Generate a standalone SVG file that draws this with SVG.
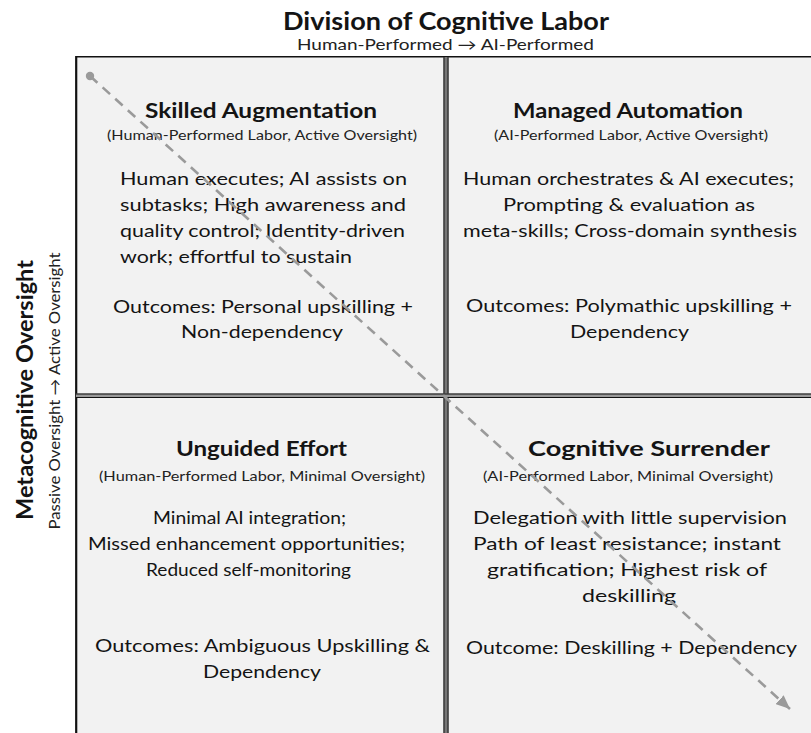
<svg xmlns="http://www.w3.org/2000/svg" width="811" height="733" viewBox="0 0 811 733">
  <style>
    text { font-family: Lato, "Open Sans", "Liberation Sans", sans-serif; fill: #141414; }
    .title { font-size: 25px; font-weight: bold; text-anchor: middle; }
    .sub { font-size: 15px; text-anchor: middle; fill: #222; }
    .qt { font-size: 21px; font-weight: bold; text-anchor: middle; }
    .qp { font-size: 13.5px; text-anchor: middle; fill: #222; }
    .body { font-size: 18px; }
    .mid { text-anchor: middle; }
    .axis { font-size: 22px; font-weight: bold; text-anchor: middle; }
    .quad { fill: #f2f2f2; }
  </style>
  <defs>
    <marker id="arrowhead" viewBox="0 0 14 12" refX="14" refY="6" markerWidth="14" markerHeight="12" markerUnits="userSpaceOnUse" orient="auto">
      <path d="M0,0 L14,6 L0,12 Z" fill="#9a9a9a"/>
    </marker>
  </defs>

  <rect width="811" height="733" fill="#ffffff"/>

  <!-- Axis headings -->
  <g id="axis-x">
    <text class="title" x="446" y="30" textLength="326" lengthAdjust="spacingAndGlyphs">Division of Cognitive Labor</text>
    <text class="sub" x="445.5" y="50" textLength="297" lengthAdjust="spacingAndGlyphs">Human-Performed → AI-Performed</text>
  </g>
  <g id="axis-y">
    <text class="axis" transform="translate(33,390) rotate(-90)" textLength="260" lengthAdjust="spacingAndGlyphs">Metacognitive Oversight</text>
    <text class="sub" transform="translate(60,391) rotate(-90)" textLength="277" lengthAdjust="spacingAndGlyphs">Passive Oversight → Active Oversight</text>
  </g>

  <!-- Grid background and frame -->
  <g id="grid">
    <rect class="quad" x="76" y="57" width="735" height="676"/>
    <line x1="76" y1="56.8" x2="811" y2="56.8" stroke="#111" stroke-width="1.6"/>
    <line x1="76.2" y1="56" x2="76.2" y2="733" stroke="#111" stroke-width="2.2"/>
    <!-- double-rule dividers -->
    <rect x="443.5" y="57" width="5" height="676" fill="#777"/>
    <line x1="444" y1="57" x2="444" y2="733" stroke="#2a2a2a" stroke-width="1.2"/>
    <line x1="448" y1="57" x2="448" y2="733" stroke="#2a2a2a" stroke-width="1.2"/>
    <rect x="76" y="393.5" width="735" height="4.5" fill="#9a9a9a"/>
    <line x1="76" y1="394" x2="811" y2="394" stroke="#111" stroke-width="1.2"/>
    <line x1="76" y1="397.5" x2="811" y2="397.5" stroke="#111" stroke-width="1.2"/>
  </g>

  <!-- Quadrant: top left -->
  <g id="skilled-augmentation">
    <text class="qt" x="261" y="118" textLength="232" lengthAdjust="spacingAndGlyphs">Skilled Augmentation</text>
    <text class="qp" x="262" y="140" textLength="310" lengthAdjust="spacingAndGlyphs">(Human-Performed Labor, Active Oversight)</text>
    <text class="body" x="120" y="185" textLength="287" lengthAdjust="spacingAndGlyphs">Human executes; AI assists on</text>
    <text class="body" x="120" y="211" textLength="286" lengthAdjust="spacingAndGlyphs">subtasks; High awareness and</text>
    <text class="body" x="120" y="237" textLength="285" lengthAdjust="spacingAndGlyphs">quality control; Identity-driven</text>
    <text class="body" x="120" y="263" textLength="232" lengthAdjust="spacingAndGlyphs">work; effortful to sustain</text>
    <text class="body mid" x="263" y="313" textLength="300" lengthAdjust="spacingAndGlyphs">Outcomes: Personal upskilling +</text>
    <text class="body mid" x="262" y="338" textLength="162" lengthAdjust="spacingAndGlyphs">Non-dependency</text>
  </g>

  <!-- Quadrant: top right -->
  <g id="managed-automation">
    <text class="qt" x="628" y="118" textLength="230" lengthAdjust="spacingAndGlyphs">Managed Automation</text>
    <text class="qp" x="631" y="140" textLength="274" lengthAdjust="spacingAndGlyphs">(AI-Performed Labor, Active Oversight)</text>
    <text class="body mid" x="628.5" y="185" textLength="331" lengthAdjust="spacingAndGlyphs">Human orchestrates &amp; AI executes;</text>
    <text class="body mid" x="629" y="211" textLength="252" lengthAdjust="spacingAndGlyphs">Prompting &amp; evaluation as</text>
    <text class="body mid" x="630" y="237" textLength="334" lengthAdjust="spacingAndGlyphs">meta-skills; Cross-domain synthesis</text>
    <text class="body mid" x="629" y="312" textLength="326" lengthAdjust="spacingAndGlyphs">Outcomes: Polymathic upskilling +</text>
    <text class="body mid" x="629.5" y="338" textLength="119" lengthAdjust="spacingAndGlyphs">Dependency</text>
  </g>

  <!-- Quadrant: bottom left -->
  <g id="unguided-effort">
    <text class="qt" x="261.5" y="456" textLength="171" lengthAdjust="spacingAndGlyphs">Unguided Effort</text>
    <text class="qp" x="262" y="481" textLength="326" lengthAdjust="spacingAndGlyphs">(Human-Performed Labor, Minimal Oversight)</text>
    <text class="body mid" x="249.5" y="524" textLength="193" lengthAdjust="spacingAndGlyphs">Minimal AI integration;</text>
    <text class="body mid" x="246.5" y="550" textLength="317" lengthAdjust="spacingAndGlyphs">Missed enhancement opportunities;</text>
    <text class="body mid" x="248.5" y="576" textLength="205" lengthAdjust="spacingAndGlyphs">Reduced self-monitoring</text>
    <text class="body mid" x="262.5" y="652" textLength="335" lengthAdjust="spacingAndGlyphs">Outcomes: Ambiguous Upskilling &amp;</text>
    <text class="body mid" x="262" y="678" textLength="118" lengthAdjust="spacingAndGlyphs">Dependency</text>
  </g>

  <!-- Quadrant: bottom right -->
  <g id="cognitive-surrender">
    <text class="qt" x="649" y="456" textLength="242" lengthAdjust="spacingAndGlyphs">Cognitive Surrender</text>
    <text class="qp" x="628" y="481" textLength="290" lengthAdjust="spacingAndGlyphs">(AI-Performed Labor, Minimal Oversight)</text>
    <text class="body mid" x="630" y="524" textLength="314" lengthAdjust="spacingAndGlyphs">Delegation with little supervision</text>
    <text class="body mid" x="627" y="550" textLength="308" lengthAdjust="spacingAndGlyphs">Path of least resistance; instant</text>
    <text class="body mid" x="627" y="576" textLength="280" lengthAdjust="spacingAndGlyphs">gratification; Highest risk of</text>
    <text class="body mid" x="629" y="602" textLength="94" lengthAdjust="spacingAndGlyphs">deskilling</text>
    <text class="body mid" x="631.5" y="654" textLength="331" lengthAdjust="spacingAndGlyphs">Outcome: Deskilling + Dependency</text>
  </g>

  <!-- Connector: diagonal trend arrow -->
  <g id="connectors">
    <circle cx="90" cy="76" r="4.2" fill="#9a9a9a"/>
    <path d="M90,76 L790,709" fill="none" stroke="#9a9a9a" stroke-width="2.6" stroke-dasharray="10 7" marker-end="url(#arrowhead)"/>
  </g>
</svg>
